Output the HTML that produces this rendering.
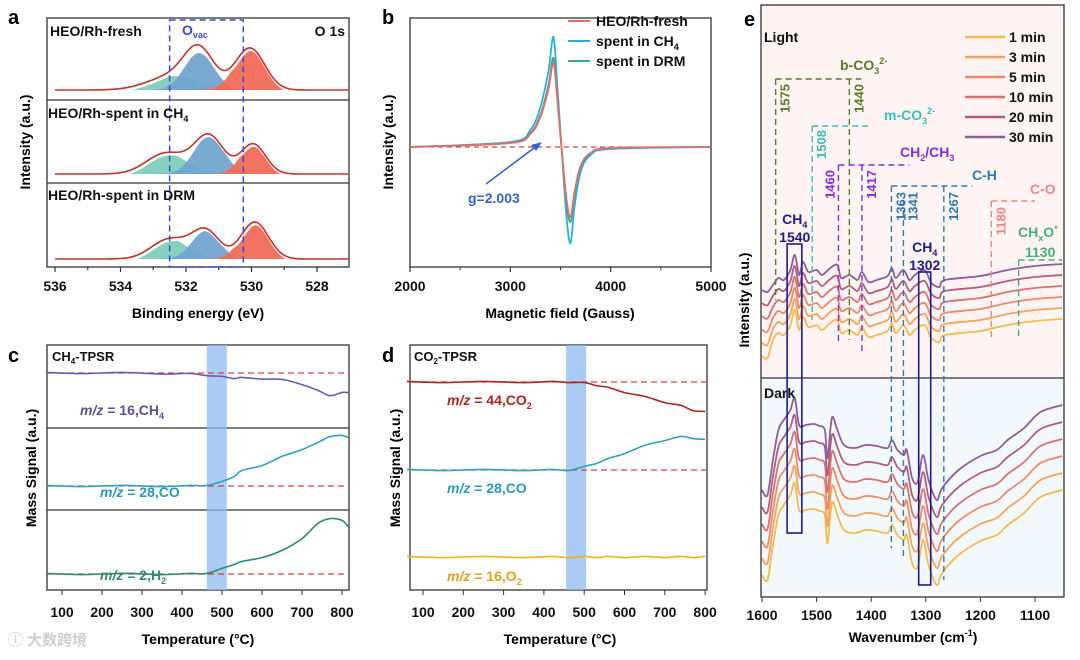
<!DOCTYPE html>
<html><head><meta charset="utf-8">
<style>
html,body{margin:0;padding:0;background:#fff;}
svg{display:block;font-family:"Liberation Sans","Noto Sans CJK SC",sans-serif;font-weight:bold;}
text{font-weight:bold;}
</style></head>
<body>
<svg id="fig" width="1080" height="660" viewBox="0 0 1080 660" xmlns="http://www.w3.org/2000/svg">
<rect x="0" y="0" width="1080" height="660" fill="#fff"/>
<text x="8" y="24" font-size="20">a</text>
<text x="382" y="24" font-size="20">b</text>
<text x="8" y="362" font-size="20">c</text>
<text x="382" y="362" font-size="20">d</text>
<text x="744" y="26" font-size="20">e</text>
<rect x="761" y="5" width="303" height="373" fill="#fdf4f3"/>
<rect x="761" y="378" width="303" height="219" fill="#f3f8fd"/>
<g id="plots"></g>
<text transform="translate(30,142) rotate(-90)" font-size="14" text-anchor="middle">Intensity (a.u.)</text>
<text x="198" y="318" font-size="14" text-anchor="middle">Binding energy (eV)</text>
<text transform="translate(393,142) rotate(-90)" font-size="14" text-anchor="middle">Intensity (a.u.)</text>
<text x="560" y="318" font-size="14" text-anchor="middle">Magnetic field (Gauss)</text>
<text transform="translate(36,468) rotate(-90)" font-size="14" text-anchor="middle">Mass Signal (a.u.)</text>
<text x="198" y="644" font-size="14" text-anchor="middle">Temperature (°C)</text>
<text transform="translate(400,468) rotate(-90)" font-size="14" text-anchor="middle">Mass Signal (a.u.)</text>
<text x="560" y="644" font-size="14" text-anchor="middle">Temperature (°C)</text>
<text transform="translate(749,300) rotate(-90)" font-size="14" text-anchor="middle">Intensity (a.u.)</text>
<text x="913" y="642" font-size="14" text-anchor="middle">Wavenumber (cm<tspan font-size="9" dy="-6">-1</tspan><tspan dy="6">)</tspan></text>
<text x="8" y="645" font-size="15" fill="#cfcfcf">ⓘ 大数跨境</text>
</svg>
<script>
// ---------- DATA ----------
const xpsSamples = ["HEO/Rh-fresh","HEO/Rh-spent in CH4","HEO/Rh-spent in DRM"];
const xpsGreen = [[532.4,0.28,0.75],[532.6,0.42,0.6],[532.5,0.40,0.55]];
const xpsBlue  = [[531.6,0.74,0.45],[531.3,0.76,0.45],[531.4,0.56,0.42]];
const xpsRed   = [[530.05,0.84,0.45],[529.95,0.60,0.38],[529.9,0.74,0.42]];
const xpsTicks = [536,534,532,530,528];
const eprField = [2000,3000,3200,3300,3380,3430,3470,3510,3560,3600,3640,3700,3800,4000,5000];
const eprFresh = [0,4,13,30,58,84,45,0,-52,-70,-45,-19,-6,-1,0];
const eprCH4   = [0,5,17,40,76,110,58,0,-70,-96,-60,-25,-8,-2,0];
const eprDRM   = [0,4,14,32,62,89,48,0,-56,-75,-48,-20,-6,-1,0];
const eprTicks = [2000,3000,4000,5000];
const tpsrTemp = [60,150,250,350,420,460,500,530,550,600,650,700,740,770,800,815];
const cCH4 = [0,0,0,-0.5,-1,-2,-4,-5,-5,-5.5,-7,-11,-18,-22,-20,-19];
const cCO  = [0,0,0,0,0,1,4,10,15,21,29,37,43,50,50,49];
const cH2  = [0,0,0,0,0,1,5,10,12,17,23,36,50,56,53,48];
const dTemp = [60,150,250,350,420,460,500,530,560,600,650,700,740,770,800];
const dCO2 = [0,0,0,0,0,0,-1,-3,-6,-10,-15,-20,-24,-28,-30];
const dCO  = [0,0,0,0,0,0,3,7,11,17,24,30,33,32,30];
const dO2  = [0,0,0,0,0,0,0,0,0,0,0,0,0,0,0];
const tTicks = [100,200,300,400,500,600,700,800];
const timeLabels = ["1 min","3 min","5 min","10 min","20 min","30 min"];
const lightWn = [1600,1590,1580,1570,1560,1548,1540,1532,1525,1515,1500,1490,1475,1462,1455,1440,1425,1417,1405,1390,1370,1362,1355,1341,1330,1320,1302,1290,1275,1265,1200,1150,1100,1050];
const light30 = [60,58,65,72,70,80,95,75,88,78,80,75,82,85,72,75,70,78,68,70,74,82,72,80,70,75,80,67,63,70,74,80,84,86];
const lightShift = [55,44,33,22,11,0];
const darkWn = [1600,1590,1580,1570,1560,1548,1540,1532,1520,1505,1495,1485,1480,1472,1462,1450,1430,1410,1390,1370,1362,1352,1340,1335,1325,1315,1305,1295,1280,1270,1240,1200,1170,1150,1120,1090,1050];
const dark30 = [10,5,40,70,80,90,102,75,75,76,74,70,42,82,70,55,52,55,54,52,60,50,45,50,22,18,45,20,0,12,30,44,50,60,72,88,95];
const darkShift = [85,68,51,34,17,0];
const wnTicks = [1600,1500,1400,1300,1200,1100];
const timeColors = ["#f5bb4c","#f3a35c","#ee8a68","#d9716f","#b45c7a","#8f5c9c"];

// ---------- HELPERS ----------
const NS = "http://www.w3.org/2000/svg";
const root = document.getElementById("plots");
function el(tag, attrs, parent){
  const e = document.createElementNS(NS, tag);
  for (const k in attrs) e.setAttribute(k, attrs[k]);
  (parent||root).appendChild(e);
  return e;
}
function smooth(pts){
  let d = "M"+pts[0][0].toFixed(1)+","+pts[0][1].toFixed(1);
  for (let i=0;i<pts.length-1;i++){
    const p0=pts[Math.max(0,i-1)],p1=pts[i],p2=pts[i+1],p3=pts[Math.min(pts.length-1,i+2)];
    const c1x=p1[0]+(p2[0]-p0[0])/6,c1y=p1[1]+(p2[1]-p0[1])/6;
    const c2x=p2[0]-(p3[0]-p1[0])/6,c2y=p2[1]-(p3[1]-p1[1])/6;
    d+=" C"+c1x.toFixed(1)+","+c1y.toFixed(1)+" "+c2x.toFixed(1)+","+c2y.toFixed(1)+" "+p2[0].toFixed(1)+","+p2[1].toFixed(1);
  }
  return d;
}
function txt(x,y,s,size,fill,anchor){
  const t = el("text",{x:x,y:y,"font-size":size,fill:fill||"#111","text-anchor":anchor||"start"});
  t.textContent = s;
  return t;
}
function box(x,y,w,h){
  return el("rect",{x:x,y:y,width:w,height:h,fill:"none",stroke:"#333","stroke-width":1.3});
}

// ---------- PANEL A ----------
const ax = v => 55 + (536 - v) * 32.75;
const subBase = [90,174,259];
function gauss(x,c){ return c[1]*Math.exp(-Math.pow((x-c[0])/c[2],2)/2); }
for (let s=0;s<3;s++){
  const base = subBase[s], ay = v => base - v*50;
  const comps = [[xpsGreen[s],"#80cdbb"],[xpsBlue[s],"#72a5cf"],[xpsRed[s],"#f16c56"]];
  comps.forEach((cc,ci)=>{
    const pts=[];
    for (let x=536; x>=527.05; x-=0.05) pts.push([ax(x), ay(gauss(x,cc[0]))]);
    let d = "M"+ax(536)+","+base+" L"+pts.map(p=>p[0].toFixed(1)+","+p[1].toFixed(1)).join(" L")+" L"+ax(527.05)+","+base+"Z";
    const p = el("path",{d:d,fill:cc[1],opacity:0.95});
    
    
  });
  const env=[];
  for (let x=536; x>=527.05; x-=0.05) env.push([ax(x), ay(gauss(x,xpsGreen[s])+gauss(x,xpsBlue[s])+gauss(x,xpsRed[s]))]);
  const ed = "M"+env.map(p=>p[0].toFixed(1)+","+p[1].toFixed(1)).join(" L");
  el("path",{d:ed,fill:"none",stroke:"#fff","stroke-width":2.5,transform:"translate(1,2)"});
  const ep = el("path",{d:ed,fill:"none",stroke:"#c8322a","stroke-width":1.6});
  
  
}
box(47,18,302,249);
el("line",{x1:47,y1:100,x2:349,y2:100,stroke:"#333","stroke-width":1.3});
el("line",{x1:47,y1:183,x2:349,y2:183,stroke:"#333","stroke-width":1.3});
for (let v=536; v>=528; v--){
  el("line",{x1:ax(v),y1:267,x2:ax(v),y2:v%2===0?272:270,stroke:"#333","stroke-width":1.2});
}
xpsTicks.forEach(v=>{ const t=txt(ax(v),291,String(v),14,"#111","middle");   });
el("rect",{x:ax(532.5),y:20,width:ax(530.25)-ax(532.5),height:247,fill:"none",stroke:"#3a49d8","stroke-width":1.5,"stroke-dasharray":"6,4"});
txt(50,36,xpsSamples[0],14);
txt(345,36,"O 1s",14,"#111","end");
{const t=txt(182,35,"O",14,"#3a49d8");const ts=el("tspan",{"font-size":9,dy:3},t);ts.textContent="vac";}
{const t=txt(48,118,"HEO/Rh-spent in CH",14);const ts=el("tspan",{"font-size":9,dy:4},t);ts.textContent="4";}
txt(48,200,xpsSamples[2],14);

// ---------- PANEL B ----------
const bx = v => 410 + (v-2000)/3000*301;
const by = v => 147 - v;
box(410,18,301,249);
eprTicks.forEach(v=>{ el("line",{x1:bx(v),y1:267,x2:bx(v),y2:272,stroke:"#333","stroke-width":1.2}); const t=txt(bx(v),291,String(v),14,"#111","middle");   });
[2500,3500,4500].forEach(v=>el("line",{x1:bx(v),y1:267,x2:bx(v),y2:270,stroke:"#333"}));
el("line",{x1:411,y1:147,x2:710,y2:147,stroke:"#e03c3c","stroke-width":1.2,"stroke-dasharray":"5,4"});
[[eprCH4,"#2aaee0","epr-ch4"],[eprDRM,"#3aa88a","epr-drm"],[eprFresh,"#e0706a","epr-fresh"]].forEach(sr=>{
  const p=el("path",{d:smooth(eprField.map((f,i)=>[bx(f),by(sr[0][i])])),fill:"none",stroke:sr[1],"stroke-width":1.8});
  
  
});
[["HEO/Rh-fresh","#e0706a",26],["spent in CH4","#2aaee0",46],["spent in DRM","#3aa88a",66]].forEach((l,i)=>{
  const ln=el("line",{x1:568,y1:l[2]-5,x2:590,y2:l[2]-5,stroke:l[1],"stroke-width":2});
  
  
  const t=txt(596,l[2],i===1?"spent in CH":l[0],14);
  if(i===1){const ts=el("tspan",{"font-size":9,dy:4},t);ts.textContent="4";}
  
  
});
el("line",{x1:486,y1:184,x2:538,y2:145,stroke:"#2f63d6","stroke-width":1.5});
el("path",{d:"M542,142 L531,145 L536,151 Z",fill:"#2f63d6"});
txt(468,203,"g=2.003",14,"#2f63d6");

// ---------- PANEL C ----------
const cx = v => 62 + (v-100)*0.4;
box(47,345,302,245);
el("line",{x1:47,y1:428,x2:349,y2:428,stroke:"#333","stroke-width":1.3});
el("line",{x1:47,y1:510,x2:349,y2:510,stroke:"#333","stroke-width":1.3});
el("rect",{x:cx(462),y:345,width:cx(512)-cx(462),height:245,fill:"#8cbaf0",opacity:0.75});
tTicks.forEach(v=>{ el("line",{x1:cx(v),y1:590,x2:cx(v),y2:595,stroke:"#333"}); const t=txt(cx(v),617,String(v),14,"#111","middle");   });
[[cCH4,373,"#6b5bb0","c-ch4-line"],[cCO,486,"#2aa2c0","c-co-line"],[cH2,574,"#2e8b6e","c-h2-line"]].forEach(sr=>{
  el("line",{x1:48,y1:sr[1],x2:348,y2:sr[1],stroke:"#e03c3c","stroke-width":1.2,"stroke-dasharray":"6,4"});
  const pts=tpsrTemp.map((t,i)=>[cx(t), sr[1]-sr[0][i] + (i%2? 0.6:-0.6)]);
  const p=el("path",{d:smooth(pts),fill:"none",stroke:sr[2],"stroke-width":1.6});
  
  
});
{const t=txt(52,361,"CH",13);let s=el("tspan",{"font-size":8,dy:3},t);s.textContent="4";s=el("tspan",{dy:-3},t);s.textContent="-TPSR";}
{const t=txt(80,415,"",14,"#5b4ea0");let s=el("tspan",{"font-style":"italic"},t);s.textContent="m/z";s=el("tspan",{},t);s.textContent=" = 16,CH";s=el("tspan",{"font-size":9,dy:4},t);s.textContent="4";}
{const t=txt(100,497,"",14,"#2a9bb5");let s=el("tspan",{"font-style":"italic"},t);s.textContent="m/z";s=el("tspan",{},t);s.textContent=" = 28,CO";}
{const t=txt(100,580,"",14,"#2e8b6e");let s=el("tspan",{"font-style":"italic"},t);s.textContent="m/z";s=el("tspan",{},t);s.textContent=" = 2,H";s=el("tspan",{"font-size":9,dy:4},t);s.textContent="2";}

// ---------- PANEL D ----------
const dx = v => 423 + (v-100)*0.403;
box(410,345,297,245);
el("rect",{x:dx(455),y:345,width:dx(505)-dx(455),height:245,fill:"#8cbaf0",opacity:0.75});
tTicks.forEach(v=>{ el("line",{x1:dx(v),y1:590,x2:dx(v),y2:595,stroke:"#333"}); const t=txt(dx(v),617,String(v),14,"#111","middle");   });
[[dCO2,382,"#b22222","d-co2-line"],[dCO,470,"#2aa2c0","d-co-line"],[dO2,557,"#f0b020","d-o2-line"]].forEach((sr,k)=>{
  if(k<2) el("line",{x1:411,y1:sr[1],x2:706,y2:sr[1],stroke:"#e03c3c","stroke-width":1.2,"stroke-dasharray":"6,4"});
  const pts=dTemp.map((t,i)=>[Math.min(dx(t),706), sr[1]-sr[0][i] + (i%2? 0.6:-0.6)]);
  const p=el("path",{d:smooth(pts),fill:"none",stroke:sr[2],"stroke-width":1.6});
  
  
});
{const t=txt(414,361,"CO",13);let s=el("tspan",{"font-size":8,dy:3},t);s.textContent="2";s=el("tspan",{dy:-3},t);s.textContent="-TPSR";}
{const t=txt(447,405,"",14,"#b22222");let s=el("tspan",{"font-style":"italic"},t);s.textContent="m/z";s=el("tspan",{},t);s.textContent=" = 44,CO";s=el("tspan",{"font-size":9,dy:4},t);s.textContent="2";}
{const t=txt(447,493,"",14,"#2a9bb5");let s=el("tspan",{"font-style":"italic"},t);s.textContent="m/z";s=el("tspan",{},t);s.textContent=" = 28,CO";}
{const t=txt(447,581,"",14,"#e0a020");let s=el("tspan",{"font-style":"italic"},t);s.textContent="m/z";s=el("tspan",{},t);s.textContent=" = 16,O";s=el("tspan",{"font-size":9,dy:4},t);s.textContent="2";}

// ---------- PANEL E ----------
const ex = wn => 762 + (1600-wn)*0.546;
const eyL = v => 350 - v;
const eyD = v => 500 - v;
for (let k=0;k<6;k++){
  const pL=el("path",{d:smooth(lightWn.map((w,i)=>[ex(w), eyL(light30[i]) + lightShift[k]*(w>1580?1.2:1)])),fill:"none",stroke:timeColors[k],"stroke-width":1.8});
  
  
  const pD=el("path",{d:smooth(darkWn.map((w,i)=>[ex(w), eyD(dark30[i]) + darkShift[k]])),fill:"none",stroke:timeColors[k],"stroke-width":1.8});
  
  
}
box(761,5,303,592);
el("line",{x1:761,y1:378,x2:1064,y2:378,stroke:"#333","stroke-width":1.3});
wnTicks.forEach(v=>{ el("line",{x1:ex(v),y1:597,x2:ex(v),y2:602,stroke:"#333"}); const t=txt(ex(v),620,String(v),14,"#111","middle");   });
txt(764,42,"Light",14);
txt(764,398,"Dark",14);
timeLabels.forEach((l,i)=>{
  const y=37+i*20;
  const ln=el("line",{x1:965,y1:y,x2:1005,y2:y,stroke:timeColors[i],"stroke-width":2.5});
  
  
  const t=txt(1009,y+5,l,14);
  
  
});
function dl(x1,y1,x2,y2,c){ el("line",{x1:x1,y1:y1,x2:x2,y2:y2,stroke:c,"stroke-width":1.4,"stroke-dasharray":"6,4"}); }
function rot(x,y,s,c){ const t=el("text",{transform:"translate("+x+","+y+") rotate(-90)","font-size":13,fill:c,"text-anchor":"end"}); t.textContent=s; }
const olive="#5d7a2a";
dl(ex(1575),79,ex(1418),79,olive); dl(ex(1575),79,ex(1575),300,olive); dl(ex(1440),79,ex(1440),340,olive);
rot(ex(1575)+14,84,"1575",olive); rot(ex(1440)+14,84,"1440",olive);
{const t=txt(840,70,"b-CO",14,olive);let s=el("tspan",{"font-size":9,dy:4},t);s.textContent="3";s=el("tspan",{"font-size":9,dy:-10},t);s.textContent="2-";}
const teal="#3cbfb5";
dl(ex(1508),126,ex(1400),126,teal); dl(ex(1508),126,ex(1508),320,teal);
rot(ex(1508)+14,130,"1508",teal);
{const t=txt(884,120,"m-CO",14,teal);let s=el("tspan",{"font-size":9,dy:4},t);s.textContent="3";s=el("tspan",{"font-size":9,dy:-10},t);s.textContent="2-";}
const purp="#8a2be2";
dl(ex(1460),165,ex(1330),165,purp); dl(ex(1460),165,ex(1460),345,purp); dl(ex(1417),165,ex(1417),355,purp);
rot(ex(1460)-4,170,"1460",purp); rot(ex(1417)+14,170,"1417",purp);
{const t=txt(900,157,"CH",14,purp);let s=el("tspan",{"font-size":9,dy:4},t);s.textContent="2";s=el("tspan",{dy:-4},t);s.textContent="/CH";s=el("tspan",{"font-size":9,dy:4},t);s.textContent="3";}
const blu="#2f7ab5";
dl(ex(1363),186,ex(1215),186,blu); dl(ex(1363),186,ex(1363),548,blu); dl(ex(1341),200,ex(1341),560,blu); dl(ex(1267),186,ex(1267),580,blu);
rot(ex(1363)+14,192,"1363",blu); rot(ex(1341)+14,192,"1341",blu); rot(ex(1267)+14,192,"1267",blu);
txt(972,180,"C-H",14,blu);
const sal="#f0877d";
dl(ex(1180),201,ex(1100),201,sal); dl(ex(1180),201,ex(1180),340,sal);
rot(ex(1180)+14,207,"1180",sal);
txt(1030,194,"C-O",14,sal);
const grn="#4aad78";
dl(ex(1130),260,ex(1050),260,grn); dl(ex(1130),260,ex(1130),340,grn);
{const t=txt(1018,237,"CH",14,grn);let s=el("tspan",{"font-size":9,dy:4},t);s.textContent="x";s=el("tspan",{dy:-4},t);s.textContent="O";s=el("tspan",{"font-size":9,dy:-5},t);s.textContent="*";}
txt(1025,257,"1130",14,grn);
const navy="#1c1c8c";
const r1=el("rect",{x:ex(1554),y:244,width:ex(1527)-ex(1554),height:289,fill:"none",stroke:navy,"stroke-width":1.6});


const r2=el("rect",{x:ex(1313),y:272,width:ex(1291)-ex(1313),height:313,fill:"none",stroke:navy,"stroke-width":1.6});


{const t=txt(ex(1540),224,"CH",14,navy,"middle");let s=el("tspan",{"font-size":9,dy:4},t);s.textContent="4";}
txt(ex(1540),242,"1540",14,navy,"middle");
{const t=txt(ex(1302),252,"CH",14,navy,"middle");let s=el("tspan",{"font-size":9,dy:4},t);s.textContent="4";}
txt(ex(1302),270,"1302",14,navy,"middle");
</script>
</body></html>
